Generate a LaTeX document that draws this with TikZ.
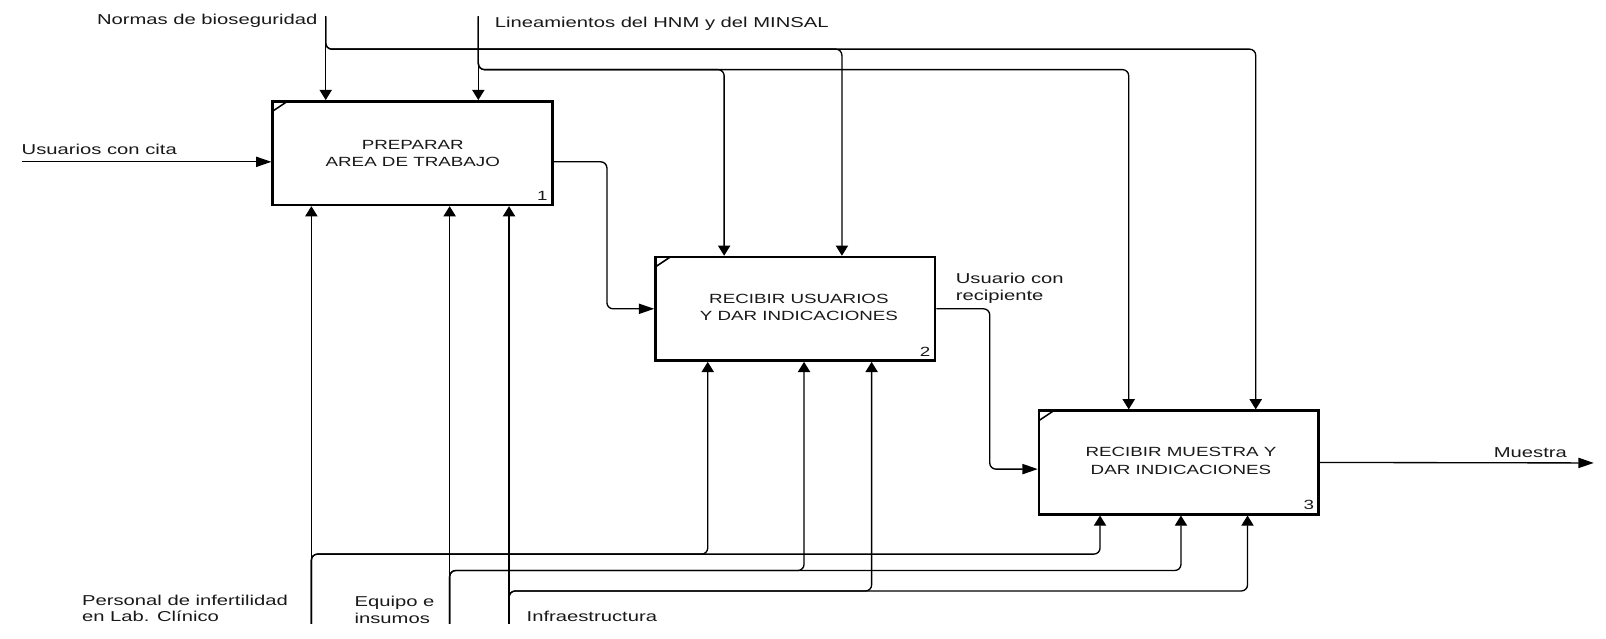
\documentclass[tikz,border=0pt]{standalone}
\usepackage{fontspec}
\setmainfont{Liberation Sans}[FakeStretch=1.41]
\usetikzlibrary{arrows.meta}
\begin{document}
\begin{tikzpicture}[x=1pt,y=-1pt,
  actbox/.style={draw=black, line width=2.6pt, minimum width=273pt, minimum height=101pt, inner sep=0pt},
  conn/.style={line width=1.3pt, rounded corners=6pt},
  varr/.style={conn, -{Triangle[length=10pt,width=12pt]}},
  harr/.style={conn, -{Triangle[length=15pt,width=10pt]}},
  lbl/.style={font=\fontsize{14}{16.5}\selectfont, inner sep=0pt, align=left, text=black!90},
  boxtxt/.style={font=\fontsize{13}{17}\selectfont, inner sep=0pt, align=center, text=black!90},
  numtxt/.style={font=\fontsize{13}{15}\selectfont, inner sep=0pt, text=black!90},
  cornermark/.style={line width=1.5pt}
]
\useasboundingbox (0,0) rectangle (1568,623);

% activity boxes
\node[actbox] (b1) at (402.75,149.5) {};
\node[actbox] (b2) at (776.5,301.5) {};
\node[actbox] (b3) at (1151,451.5) {};

\node[boxtxt] (t1) at (403,150) {PREPARAR\\AREA DE TRABAJO};
\node[boxtxt] (t2) at (780,300) {RECIBIR USUARIOS\\Y DAR INDICACIONES};
\node[boxtxt] (t3) at (1153,450) {RECIBIR MUESTRA Y\\DAR INDICACIONES};

\node[numtxt] (n1) at ([xshift=-11pt,yshift=10pt]b1.south east) {1};
\node[numtxt] (n2) at ([xshift=-11pt,yshift=10pt]b2.south east) {2};
\node[numtxt] (n3) at ([xshift=-11pt,yshift=10pt]b3.south east) {3};

\foreach \b in {b1,b2,b3}{
  \draw[cornermark] ([xshift=1pt,yshift=-11pt]\b.north west) -- ([xshift=16pt,yshift=-1pt]\b.north west);
}

% coordinates
\coordinate (nTop) at (318,16);
\coordinate (lTop) at (467,16);
\coordinate (pBot) at (304,609);
\coordinate (eBot) at (439,609);
\coordinate (iBot) at (497,609);
\coordinate (uIn) at (21,158);
\coordinate (mOut) at (1556,452);

\coordinate (cN2) at (822,48);
\coordinate (cN3) at (1226,48);
\coordinate (cL2) at (707,68);
\coordinate (cL3) at (1102,68);
\coordinate (cP2) at (691,541);
\coordinate (cP3) at (1074,541);
\coordinate (cE2) at (785,557);
\coordinate (cE3) at (1153,557);
\coordinate (cI2) at (851,577);
\coordinate (cI3) at (1218,577);

% controls
\draw[varr] (nTop) -- (nTop |- b1.north);
\draw[varr] (nTop) |- (cN2) -- (cN2 |- b2.north);
\draw[varr] (nTop) |- (cN3) -- (cN3 |- b3.north);
\draw[varr] (lTop) -- (lTop |- b1.north);
\draw[varr] (lTop) |- (cL2) -- (cL2 |- b2.north);
\draw[varr] (lTop) |- (cL3) -- (cL3 |- b3.north);

% mechanisms
\draw[varr] (pBot) -- (pBot |- b1.south);
\draw[varr] (pBot) |- (cP2) -- (cP2 |- b2.south);
\draw[varr] (pBot) |- (cP3) -- (cP3 |- b3.south);
\draw[varr] (eBot) -- (eBot |- b1.south);
\draw[varr] (eBot) |- (cE2) -- (cE2 |- b2.south);
\draw[varr] (eBot) |- (cE3) -- (cE3 |- b3.south);
\draw[varr] (iBot) -- (iBot |- b1.south);
\draw[varr] (iBot) |- (cI2) -- (cI2 |- b2.south);
\draw[varr] (iBot) |- (cI3) -- (cI3 |- b3.south);

% inputs / outputs
\draw[harr] (uIn) -- ([yshift=-8.5pt]b1.west);
\draw[harr] ([yshift=-8.5pt]b1.east) -- ++(52,0) |- (b2.west);
\draw[harr] (b2.east) -- ++(52,0) |- ([yshift=-6.5pt]b3.west);
\draw[harr] (b3.east) -- (mOut);

% labels
\node[lbl, anchor=mid east] (tN) at (310,21) {Normas de bioseguridad};
\node[lbl, anchor=mid west] (tL) at (483,24.5) {Lineamientos del HNM y del MINSAL};
\node[lbl, anchor=mid west] (tU) at (21,148) {Usuarios con cita};
\node[lbl, anchor=west] (tR) at (933,281.5) {Usuario con\\recipiente};
\node[lbl, anchor=mid east] (tM) at (1530,444) {Muestra};
\node[lbl, anchor=west] (tP) at (80,594) {Personal de infertilidad\\en Lab. Clínico};
\node[lbl, anchor=west] (tE) at (346,595.5) {Equipo e\\insumos};
\node[lbl, anchor=mid west] (tI) at (514,604) {Infraestructura};
\end{tikzpicture}
\end{document}
